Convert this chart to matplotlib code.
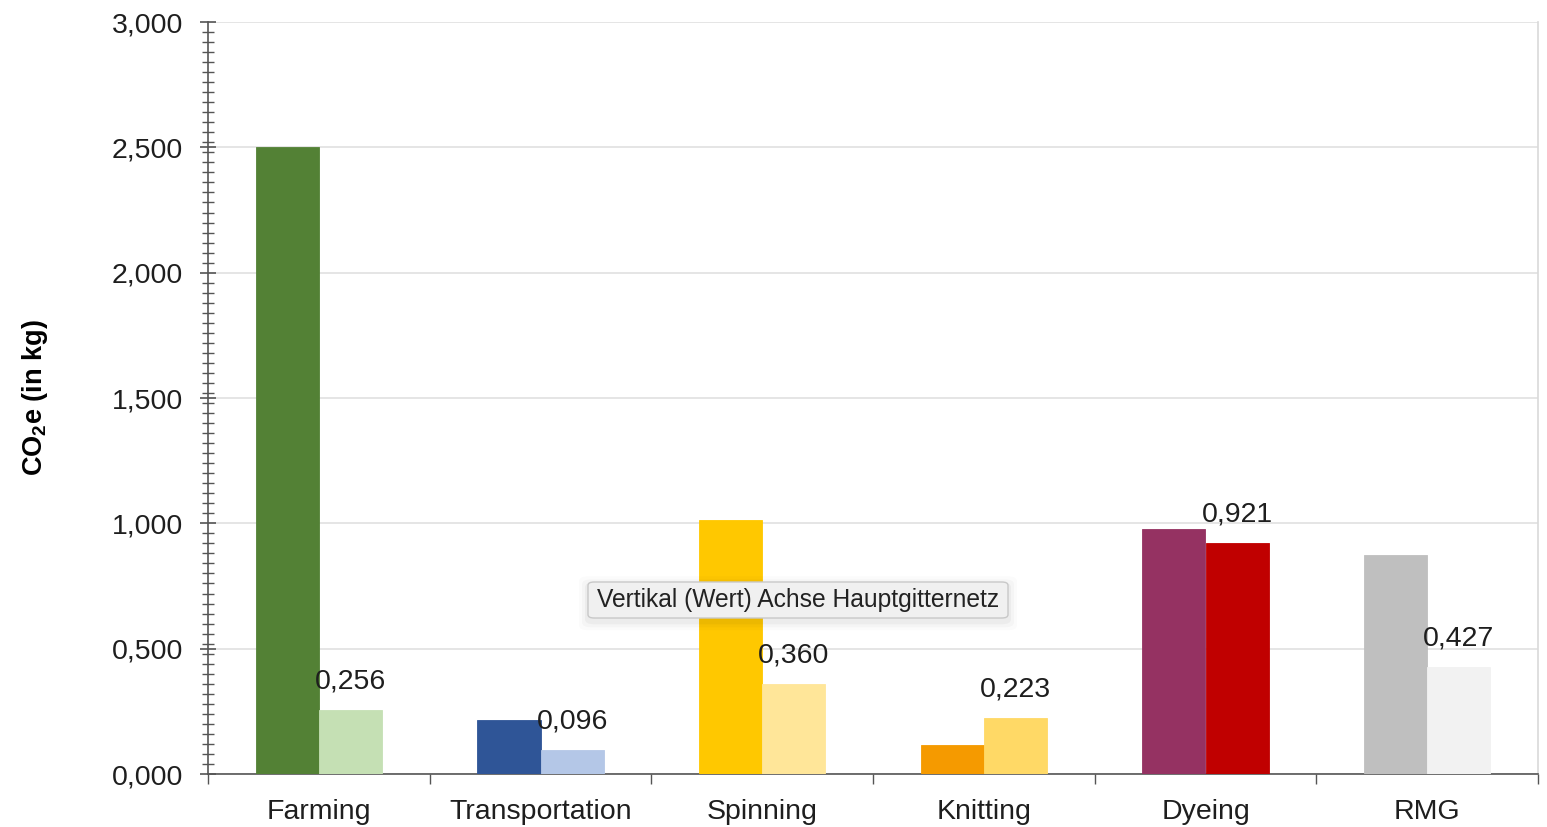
import matplotlib
matplotlib.use("Agg")
import matplotlib.pyplot as plt
from matplotlib.ticker import MultipleLocator, FuncFormatter
from matplotlib.patches import FancyBboxPatch
import numpy as np

plt.rcParams['font.family'] = ['Liberation Sans', 'DejaVu Sans']
plt.rcParams['mathtext.fontset'] = 'custom'
plt.rcParams['mathtext.rm'] = 'Liberation Sans'
plt.rcParams['mathtext.bf'] = 'Liberation Sans:bold'

categories = ["Farming", "Transportation", "Spinning", "Knitting", "Dyeing", "RMG"]
first_values = [2.500, 0.215, 1.015, 0.116, 0.977, 0.874]
second_values = [0.256, 0.096, 0.360, 0.223, 0.921, 0.427]
first_colors = ["#538135", "#2F5597", "#FFC800", "#F59A00", "#953262", "#BFBFBF"]
second_colors = ["#C5E0B4", "#B4C7E7", "#FFE699", "#FFD966", "#C00000", "#F2F2F2"]
value_labels = ["0,256", "0,096", "0,360", "0,223", "0,921", "0,427"]

fig = plt.figure(figsize=(15.47, 8.27), dpi=100)
ax = fig.add_axes([208 / 1547, 1 - 774 / 827, 1330 / 1547, 752 / 827])

x = np.arange(len(categories))
w = 0.285
ax.bar(x - w / 2, first_values, width=w, color=first_colors, edgecolor=first_colors,
       linewidth=0.6, zorder=3)
ax.bar(x + w / 2, second_values, width=w, color=second_colors, edgecolor=second_colors,
       linewidth=0.6, zorder=3)

for xi, v, lab in zip(x, second_values, value_labels):
    ax.annotate(lab, (xi + w / 2, v), xytext=(0, 11), textcoords="offset points",
                ha="center", va="bottom", fontsize=20.5, color="#1E1E1E", zorder=4)

ax.set_xlim(-0.5, len(categories) - 0.5)
ax.set_ylim(0, 3.0)

ax.yaxis.set_major_locator(MultipleLocator(0.5))
ax.yaxis.set_minor_locator(MultipleLocator(0.04))
ax.yaxis.set_major_formatter(FuncFormatter(lambda v, p: f"{v:.3f}".replace(".", ",")))
ax.tick_params(axis="y", which="major", direction="inout", length=12, width=1.2,
               color="#555555", labelsize=20.5, pad=12, labelcolor="#1E1E1E")
ax.tick_params(axis="y", which="minor", direction="inout", length=8, width=1.0,
               color="#555555")
ax.grid(axis="y", which="major", color="#E0E0E0", linewidth=1.2, zorder=0)

ax.set_xticks(x)
ax.set_xticklabels(categories)
ax.set_xticks(np.arange(len(categories) + 1) - 0.5, minor=True)
ax.tick_params(axis="x", which="major", length=0, labelsize=20.5, pad=18, labelcolor="#1E1E1E")
ax.tick_params(axis="x", which="minor", direction="out", length=7, width=1.0, color="#555555")

ax.spines["top"].set_visible(False)
ax.spines["right"].set_color("#D9D9D9")
ax.spines["right"].set_linewidth(1.2)
ax.spines["left"].set_color("#555555")
ax.spines["left"].set_linewidth(1.2)
ax.spines["bottom"].set_color("#555555")
ax.spines["bottom"].set_linewidth(1.2)

ax.set_ylabel(r"CO$_\mathbf{2}$e (in kg)", fontsize=19.5, fontweight="bold")
ax.yaxis.set_label_coords(-0.119, 0.5)

# hover tooltip over the gridline
tx0, ty0, tw, th = 588 / 1547, 1 - 618 / 827, 420 / 1547, 36 / 827
for i, a in enumerate([0.035, 0.025, 0.015]):
    d = (i + 1) * 3 / 1547
    fig.patches.append(FancyBboxPatch((tx0 - d, ty0 - d * 1.87 - 0.004), tw + 2 * d, th + 2 * d * 1.87,
                                      boxstyle="round,pad=0,rounding_size=0.006",
                                      transform=fig.transFigure, facecolor="black", alpha=a,
                                      edgecolor="none", zorder=5))
fig.patches.append(FancyBboxPatch((tx0, ty0), tw, th, boxstyle="round,pad=0,rounding_size=0.004",
                                  transform=fig.transFigure, facecolor="#F0F0F0",
                                  edgecolor="#C8C8C8", linewidth=1.0, zorder=6))
fig.text(tx0 + tw / 2, ty0 + th / 2, "Vertikal (Wert) Achse Hauptgitternetz", ha="center",
         va="center", fontsize=17.7, color="#222222", zorder=7)

fig.savefig("out.png", dpi=100)
